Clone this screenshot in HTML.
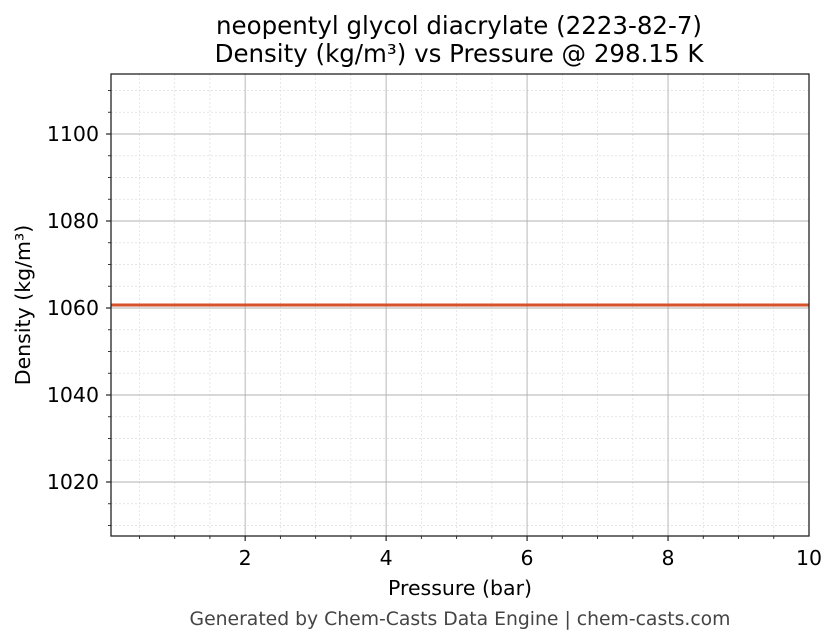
<!DOCTYPE html>
<html><head><style>body{margin:0;background:#fff}svg{display:block}text{font-family:"DejaVu Sans","Liberation Sans",sans-serif}</style></head>
<body>
<svg width="836" height="644" viewBox="0 0 836 644" xmlns="http://www.w3.org/2000/svg">
<rect width="836" height="644" fill="#fff"/>
<g id="minor" stroke="#dddddd" stroke-width="0.7" stroke-dasharray="2,2"></g>
<g id="major" stroke="#b0b0b0" stroke-width="0.9"></g>
<line x1="111" y1="305" x2="809" y2="305" stroke="#d5522a" stroke-width="3"/>
<rect x="111" y="74" width="698" height="462" fill="none" stroke="#222" stroke-width="1.3"/>
<g id="ticks" stroke="#222"></g>
<g id="labels" font-size="20.5" fill="#000"></g>
<text x="459" y="34" font-size="24.5" text-anchor="middle">neopentyl glycol diacrylate (2223-82-7)</text>
<text x="459" y="62" font-size="24.5" text-anchor="middle">Density (kg/m³) vs Pressure @ 298.15 K</text>
<text x="460" y="595" font-size="20.5" text-anchor="middle">Pressure (bar)</text>
<text transform="translate(30,305) rotate(-90)" font-size="20.5" text-anchor="middle">Density (kg/m³)</text>
<text x="460" y="625" font-size="18.8" fill="#444" text-anchor="middle">Generated by Chem-Casts Data Engine | chem-casts.com</text>
</svg>
<script>
const ns="http://www.w3.org/2000/svg";
function L(g,x1,y1,x2,y2,w){const l=document.createElementNS(ns,"line");l.setAttribute("x1",x1);l.setAttribute("y1",y1);l.setAttribute("x2",x2);l.setAttribute("y2",y2);if(w)l.setAttribute("stroke-width",w);document.getElementById(g).appendChild(l);}
function T(x,y,s,a){const t=document.createElementNS(ns,"text");t.setAttribute("x",x);t.setAttribute("y",y);t.setAttribute("text-anchor",a);t.textContent=s;document.getElementById("labels").appendChild(t);}
const X=b=>104.2+b*70.48, Y=v=>308-(v-1060)*4.35;
for(let b=0.5;b<10;b+=0.5){const x=X(b);if(b%2===0){L("major",x,74,x,536);L("ticks",x,536,x,541,1.2);T(x,565,String(b),"middle");}else{L("minor",x,74,x,536);L("ticks",x,536,x,539,0.9);}}
T(X(10),565,"10","middle");
for(let v=1010;v<=1110;v+=5){const y=Y(v);if(v%20===0){L("major",111,y,809,y);L("ticks",106,y,111,y,1.2);T(99,y+7,String(v),"end");}else{L("minor",111,y,809,y);L("ticks",108,y,111,y,0.9);}}
</script>
</body></html>
